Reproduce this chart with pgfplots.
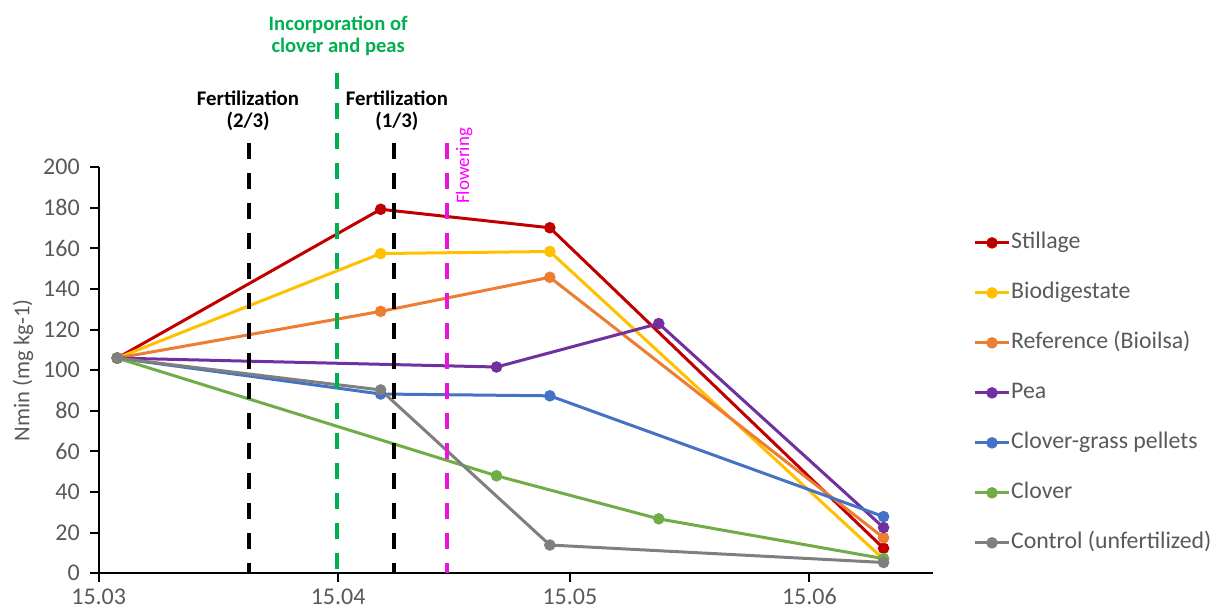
\documentclass[border=0pt]{standalone}
\usepackage{pgfplots}
\pgfplotsset{compat=1.18}
\usepackage{fontspec}
\setmainfont{Carlito}

\definecolor{cStill}{HTML}{C00000}
\definecolor{cBio}{HTML}{FFC000}
\definecolor{cRef}{HTML}{ED7D31}
\definecolor{cPea}{HTML}{7030A0}
\definecolor{cCgp}{HTML}{4472C4}
\definecolor{cClo}{HTML}{70AD47}
\definecolor{cCtl}{HTML}{7F7F7F}
\definecolor{cTxt}{HTML}{595959}
\definecolor{cGreen}{HTML}{00B050}
\definecolor{cMag}{HTML}{FF00FF}
\definecolor{cMagL}{HTML}{E814D8}

\begin{document}
\begin{tikzpicture}
\begin{axis}[
    scale only axis,
    width=417.2pt, height=203pt,
    xmin=0, xmax=108,
    ymin=0, ymax=200,
    axis lines*=left,
    axis line style={line width=1pt, black},
    xtick={0,31,61,92},
    xticklabels={15.03,15.04,15.05,15.06},
    ytick={0,20,...,200},
    tick align=outside,
    major tick length=4.3pt,
    tick style={line width=1pt, black},
    /pgf/number format/assume math mode=true,
    ticklabel style={font=\fontsize{12}{14}\selectfont, text=cTxt, inner sep=0pt},
    xticklabel style={yshift=-3.2pt},
    yticklabel style={xshift=-5pt},
    ylabel={Nmin (mg kg-1)},
    ylabel style={font=\fontsize{11.3}{13}\selectfont, text=cTxt, at={(axis description cs:-0.0907,0.5)}, anchor=center},
    clip=false,
    every axis plot/.append style={line width=1.5pt, mark=*, mark size=2.1pt},
    legend cell align=left,
    legend style={at={(axis description cs:1.048,0.8406)}, anchor=north west,
        draw=none, fill=none, inner sep=0pt, row sep=14.5pt,
        font=\fontsize{11.9}{13}\selectfont, text=cTxt,
        nodes={inner xsep=0.3pt, inner ysep=0pt, text height=8pt, text depth=2.5pt}},
]
\addplot[color=cStill] coordinates {(2.4,106)(36.5,179.3)(58.4,170.2)(101.6,12.3)};
\addlegendentry{Stillage}
\addplot[color=cBio] coordinates {(2.4,106)(36.5,157.5)(58.4,158.5)(101.6,6.9)};
\addlegendentry{Biodigestate}
\addplot[color=cRef] coordinates {(2.4,106)(36.5,129)(58.4,145.8)(101.6,17.5)};
\addlegendentry{Reference (Bioilsa)}
\addplot[color=cPea] coordinates {(2.4,106)(51.5,101.6)(72.5,123)(101.6,22.5)};
\addlegendentry{Pea}
\addplot[color=cCgp] coordinates {(2.4,106)(36.5,88.3)(58.4,87.4)(101.6,27.9)};
\addlegendentry{Clover-grass pellets}
\addplot[color=cClo] coordinates {(2.4,106)(51.5,48)(72.5,26.8)(101.6,7.2)};
\addlegendentry{Clover}
\addplot[color=cCtl] coordinates {(2.4,106)(36.5,90.3)(58.4,13.9)(101.6,5.3)};
\addlegendentry{Control (unfertilized)}

% event markers
\addplot[forget plot, no marks, black, line width=2pt, dash pattern=on 8.3pt off 6.7pt] coordinates {(19.46,212.1)(19.46,0)};
\addplot[forget plot, no marks, cGreen, line width=2pt, dash pattern=on 8.3pt off 6.7pt] coordinates {(30.9,246.6)(30.9,0)};
\addplot[forget plot, no marks, black, line width=2pt, dash pattern=on 8.3pt off 6.7pt] coordinates {(38.27,212.1)(38.27,0)};
\addplot[forget plot, no marks, cMagL, line width=2pt, dash pattern=on 8.3pt off 6.7pt] coordinates {(45.1,212.1)(45.1,0)};

\node[anchor=base, inner sep=0pt, font=\fontsize{10.4}{12}\bfseries] at (axis cs:19.33,230.3) {Fertilization};
\node[anchor=base, inner sep=0pt, font=\fontsize{10.4}{12}\bfseries] at (axis cs:19.33,219.5) {(2/3)};
\node[anchor=base, inner sep=0pt, font=\fontsize{10.4}{12}\bfseries] at (axis cs:38.6,230.3) {Fertilization};
\node[anchor=base, inner sep=0pt, font=\fontsize{10.4}{12}\bfseries] at (axis cs:38.6,219.5) {(1/3)};
\node[anchor=base, inner sep=0pt, text=cGreen, font=\fontsize{10.3}{12}\bfseries] at (axis cs:31.0,267.6) {Incorporation of};
\node[anchor=base, inner sep=0pt, text=cGreen, font=\fontsize{10.3}{12}\bfseries] at (axis cs:31.0,256.7) {clover and peas};
\node[anchor=base west, rotate=90, inner sep=0pt, text=cMag, font=\fontsize{9.5}{11}\selectfont] at (axis cs:47.94,181.8) {Flowering};

\coordinate (bbA) at (axis description cs:-0.1183,-0.0855);
\coordinate (bbB) at (axis description cs:1.3440,1.4121);
\end{axis}
\pgfresetboundingbox
\useasboundingbox (bbA) rectangle (bbB);
\end{tikzpicture}
\end{document}
